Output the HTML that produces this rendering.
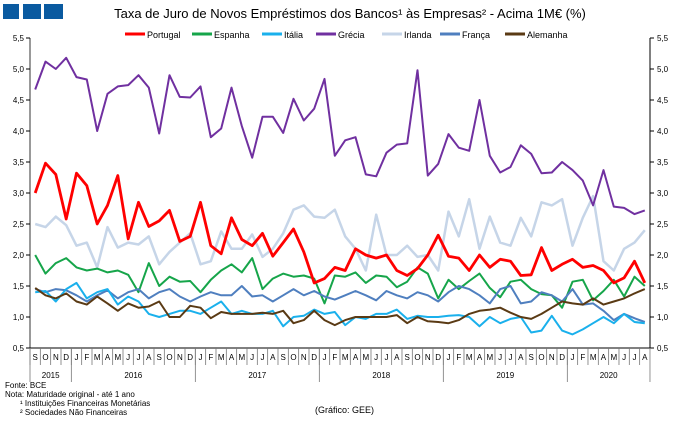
<!DOCTYPE html>
<html><head><meta charset="utf-8"><style>
body{margin:0;background:#fff;}
svg{display:block;font-family:"Liberation Sans",sans-serif;}
</style></head><body>
<svg id="c" width="680" height="421" xmlns="http://www.w3.org/2000/svg">
<rect x="3" y="4" width="16" height="15" fill="#0a5aa0"/>
<rect x="23" y="4" width="18" height="15" fill="#0a5aa0"/>
<rect x="44" y="4" width="19" height="15" fill="#0a5aa0"/>
<text x="350" y="18" font-size="13" text-anchor="middle" fill="#000">Taxa de Juro de Novos Empréstimos dos Bancos¹ às Empresas² - Acima 1M€ (%)</text>
<g id="g"></g>
<text x="5" y="388" font-size="8">Fonte: BCE</text>
<text x="5" y="397" font-size="8">Nota: Maturidade original - até 1 ano</text>
<text x="20" y="406" font-size="8">¹ Instituições Financeiras Monetárias</text>
<text x="20" y="415" font-size="8">² Sociedades Não Financeiras</text>
<text x="315" y="413" font-size="9">(Gráfico: GEE)</text>
</svg>
<script>
var g=document.getElementById('g'),h='';
function Y(v){return 348-(v-0.5)*62;}
function X(i){return 30+10.333*(i+0.5);}
h+='<line x1="30" y1="38" x2="30" y2="348" stroke="#999" stroke-width="2"/>';
h+='<line x1="650" y1="38" x2="650" y2="348" stroke="#000" stroke-width="1"/>';
h+='<line x1="30" y1="348" x2="650" y2="348" stroke="#000" stroke-width="1"/>';
for(var k=0;k<=10;k++){var v=0.5+k*0.5,y=Y(v),s=v.toFixed(1).replace('.',',');
h+='<line x1="26" y1="'+y+'" x2="30" y2="'+y+'" stroke="#000"/><line x1="650" y1="'+y+'" x2="654" y2="'+y+'" stroke="#000"/>';
h+='<text x="24" y="'+(y+3)+'" font-size="8" text-anchor="end">'+s+'</text><text x="657" y="'+(y+3)+'" font-size="8">'+s+'</text>';}
var m='SONDJFMAMJJASONDJFMAMJJASONDJFMAMJJASONDJFMAMJJASONDJFMAMJJA';
for(var i=0;i<60;i++){h+='<text x="'+X(i)+'" y="360" font-size="8" text-anchor="middle">'+m[i]+'</text>';
h+='<line x1="'+(30+10.333*i)+'" y1="348" x2="'+(30+10.333*i)+'" y2="365" stroke="#777" stroke-width="0.8"/>';}
var yb=[0,4,16,28,40,52,60],yn=['2015','2016','2017','2018','2019','2020'];
for(var j=0;j<7;j++){var xx=30+10.333*yb[j];h+='<line x1="'+xx+'" y1="348" x2="'+xx+'" y2="382" stroke="#777" stroke-width="0.8"/>';
if(j<6)h+='<text x="'+(30+10.333*(yb[j]+yb[j+1])/2)+'" y="378" font-size="8" text-anchor="middle">'+yn[j]+'</text>';}
var S=[
['Irlanda','#c6d5e8',2.5,[2.5,2.45,2.62,2.48,2.15,2.2,1.8,2.45,2.12,2.2,2.17,2.3,1.85,2.05,2.2,2.35,1.85,1.9,2.38,2.1,2.1,2.33,1.97,2.1,2.35,2.73,2.8,2.62,2.6,2.73,2.3,2.1,1.75,2.65,2.0,2.0,2.15,1.97,2.0,1.75,2.7,2.3,2.9,2.1,2.62,2.2,2.15,2.6,2.3,2.85,2.8,2.9,2.15,2.6,2.95,1.9,1.75,2.1,2.2,2.4]],
['Grécia','#7030a0',2,[4.67,5.12,5.0,5.18,4.87,4.83,4.0,4.6,4.72,4.74,4.9,4.7,3.96,4.9,4.55,4.54,4.72,3.9,4.04,4.7,4.08,3.57,4.23,4.23,3.97,4.52,4.17,4.36,4.84,3.6,3.85,3.9,3.3,3.27,3.65,3.78,3.8,4.98,3.28,3.47,3.95,3.73,3.68,4.5,3.6,3.33,3.42,3.77,3.63,3.32,3.33,3.5,3.37,3.2,2.8,3.37,2.78,2.76,2.66,2.72]],
['Espanha','#16a54a',2,[2.0,1.7,1.87,1.95,1.8,1.75,1.78,1.72,1.75,1.68,1.4,1.87,1.5,1.65,1.57,1.58,1.4,1.6,1.75,1.85,1.72,1.95,1.45,1.62,1.7,1.65,1.67,1.62,1.22,1.67,1.65,1.72,1.55,1.67,1.65,1.48,1.57,1.8,1.7,1.3,1.6,1.45,1.58,1.7,1.47,1.32,1.57,1.6,1.45,1.37,1.35,1.15,1.57,1.6,1.27,1.42,1.6,1.33,1.65,1.5]],
['França','#4f7fbf',2,[1.45,1.4,1.45,1.43,1.35,1.25,1.35,1.43,1.3,1.4,1.45,1.3,1.4,1.45,1.33,1.25,1.33,1.4,1.35,1.35,1.5,1.33,1.35,1.25,1.35,1.45,1.35,1.42,1.33,1.28,1.35,1.42,1.35,1.27,1.42,1.35,1.3,1.4,1.35,1.25,1.4,1.5,1.45,1.35,1.22,1.45,1.5,1.22,1.25,1.4,1.35,1.25,1.45,1.2,1.22,1.1,0.95,1.05,0.98,0.92]],
['Itália','#1ab0ec',2,[1.4,1.42,1.25,1.45,1.55,1.3,1.4,1.45,1.2,1.33,1.25,1.05,1.0,1.05,1.1,1.1,1.05,1.15,1.25,1.05,1.1,1.05,1.05,1.1,0.85,1.0,1.02,1.12,1.05,1.08,0.87,1.0,0.97,1.05,1.05,1.12,0.97,1.02,1.0,1.0,1.02,1.03,1.0,0.85,1.0,0.9,0.97,1.0,0.75,0.78,1.02,0.78,0.72,0.8,0.9,1.0,0.9,1.05,0.92,0.9]],
['Alemanha','#5a3a14',2,[1.47,1.35,1.3,1.38,1.25,1.2,1.33,1.22,1.1,1.22,1.15,1.17,1.25,1.0,1.0,1.18,1.15,0.98,1.08,1.05,1.05,1.05,1.07,1.05,1.1,0.9,0.95,1.1,0.95,0.87,0.95,1.0,1.0,1.0,1.0,1.03,0.9,1.0,0.93,0.92,0.9,0.95,1.05,1.1,1.12,1.15,1.07,1.0,0.97,1.05,1.15,1.25,1.22,1.2,1.3,1.2,1.25,1.3,1.38,1.45]],
['Portugal','#ff0000',2.8,[3.0,3.48,3.3,2.58,3.32,3.12,2.5,2.8,3.28,2.26,2.85,2.46,2.55,2.72,2.22,2.3,2.85,2.15,2.02,2.6,2.25,2.15,2.35,1.98,2.2,2.42,2.05,1.55,1.62,1.8,1.75,2.1,2.0,1.95,2.0,1.75,1.67,1.78,2.0,2.32,1.98,1.95,1.75,2.0,1.8,1.93,1.9,1.67,1.68,2.12,1.75,1.85,1.93,1.8,1.83,1.75,1.55,1.63,1.9,1.55]]];
S.forEach(function(s){var p=s[3].map(function(v,i){return X(i).toFixed(1)+','+Y(v).toFixed(1);}).join(' ');
h+='<polyline points="'+p+'" fill="none" stroke="'+s[1]+'" stroke-width="'+s[2]+'" stroke-linejoin="round"/>';});
var L=[['Portugal','#ff0000',125],['Espanha','#16a54a',192],['Itália','#1ab0ec',262],['Grécia','#7030a0',316],['Irlanda','#c6d5e8',382],['França','#4f7fbf',440],['Alemanha','#5a3a14',505]];
L.forEach(function(l){h+='<line x1="'+l[2]+'" y1="34" x2="'+(l[2]+20)+'" y2="34" stroke="'+l[1]+'" stroke-width="3"/><text x="'+(l[2]+22)+'" y="38" font-size="9">'+l[0]+'</text>';});
g.innerHTML=h;
</script>
</body></html>
